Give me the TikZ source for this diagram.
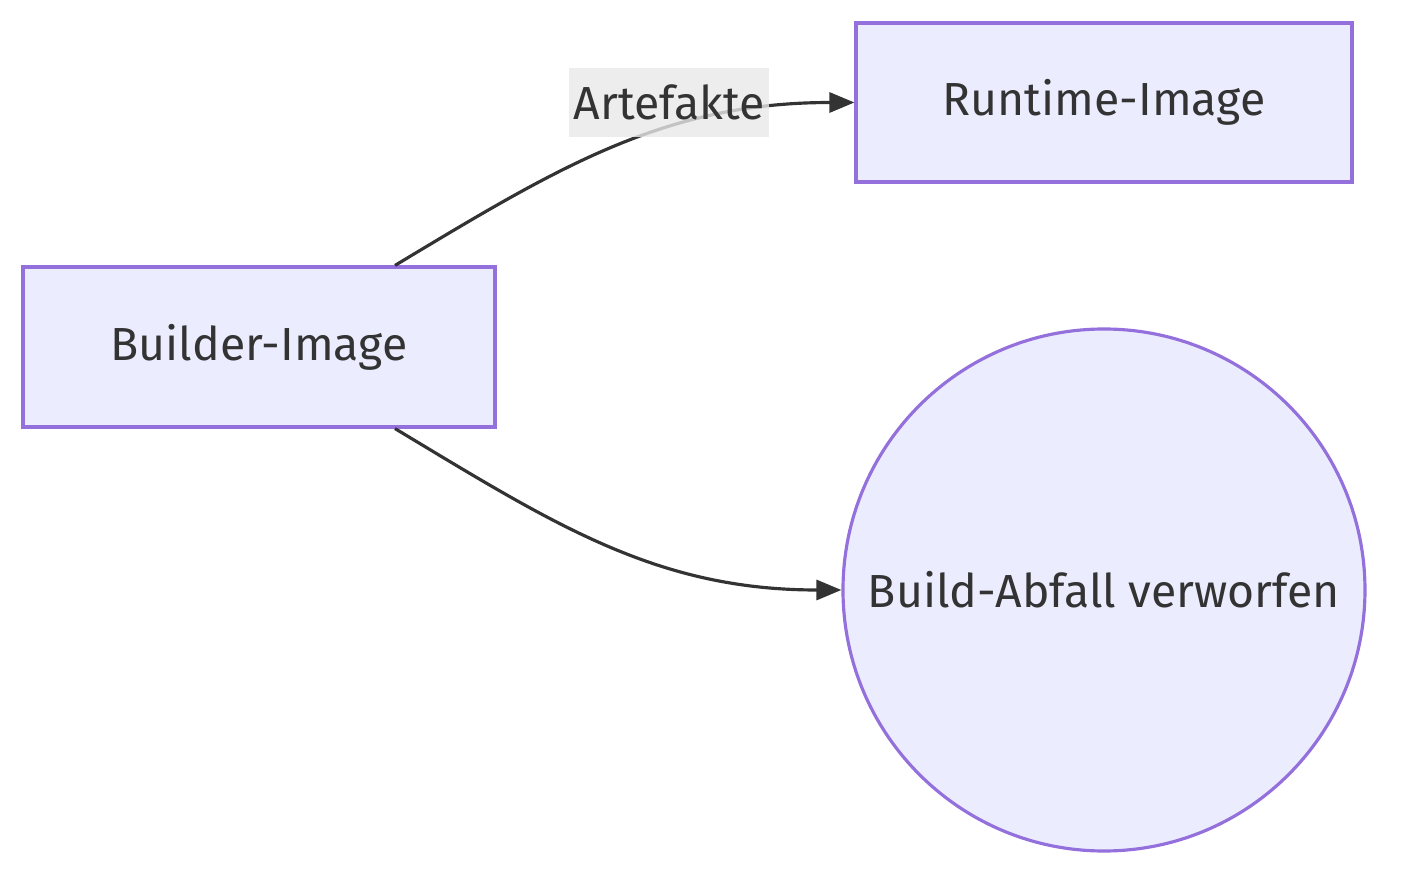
\documentclass[tikz,border=0pt]{standalone}
\usepackage{fontspec}
\setmainfont{Fira Sans}
\usetikzlibrary{arrows.meta}
\definecolor{boxfill}{HTML}{ECECFF}
\definecolor{boxline}{HTML}{9370DB}
\definecolor{ink}{HTML}{333333}
\definecolor{labelgray}{HTML}{E8E8E8}
\tikzset{
  imagebox/.style={draw=boxline, fill=boxfill, line width=0.9pt, text=ink, inner sep=0pt},
  flow/.style={draw=ink, line width=0.9pt, -{Triangle[length=0.25cm, width=0.2cm]}},
}
\begin{document}
\begin{tikzpicture}[font=\fontsize{13.2}{16}\selectfont]
  \useasboundingbox (0,0) rectangle (14.13,8.91);

  \node[imagebox, minimum width=4.72cm, minimum height=1.60cm] (builder) at (2.59,5.44) { Builder-Image };
  \node[imagebox, minimum width=4.96cm, minimum height=1.59cm] (runtime) at (11.04,7.885) { Runtime-Image };
  \node[imagebox, circle, minimum size=5.22cm] (waste) at (11.04,3.01) { Build-Abfall verworfen };

  \draw[flow] ([xshift=1.36cm]builder.north) to[out=31, in=180] (runtime.west);
  \draw[flow] ([xshift=1.36cm]builder.south) to[out=-31, in=180] (waste.west);

  \node[fill=labelgray, fill opacity=0.8, text opacity=1, text=ink, minimum width=2.0cm, minimum height=0.69cm, inner sep=0pt] (artefakte) at (6.69,7.885) { Artefakte };
\end{tikzpicture}
\end{document}
